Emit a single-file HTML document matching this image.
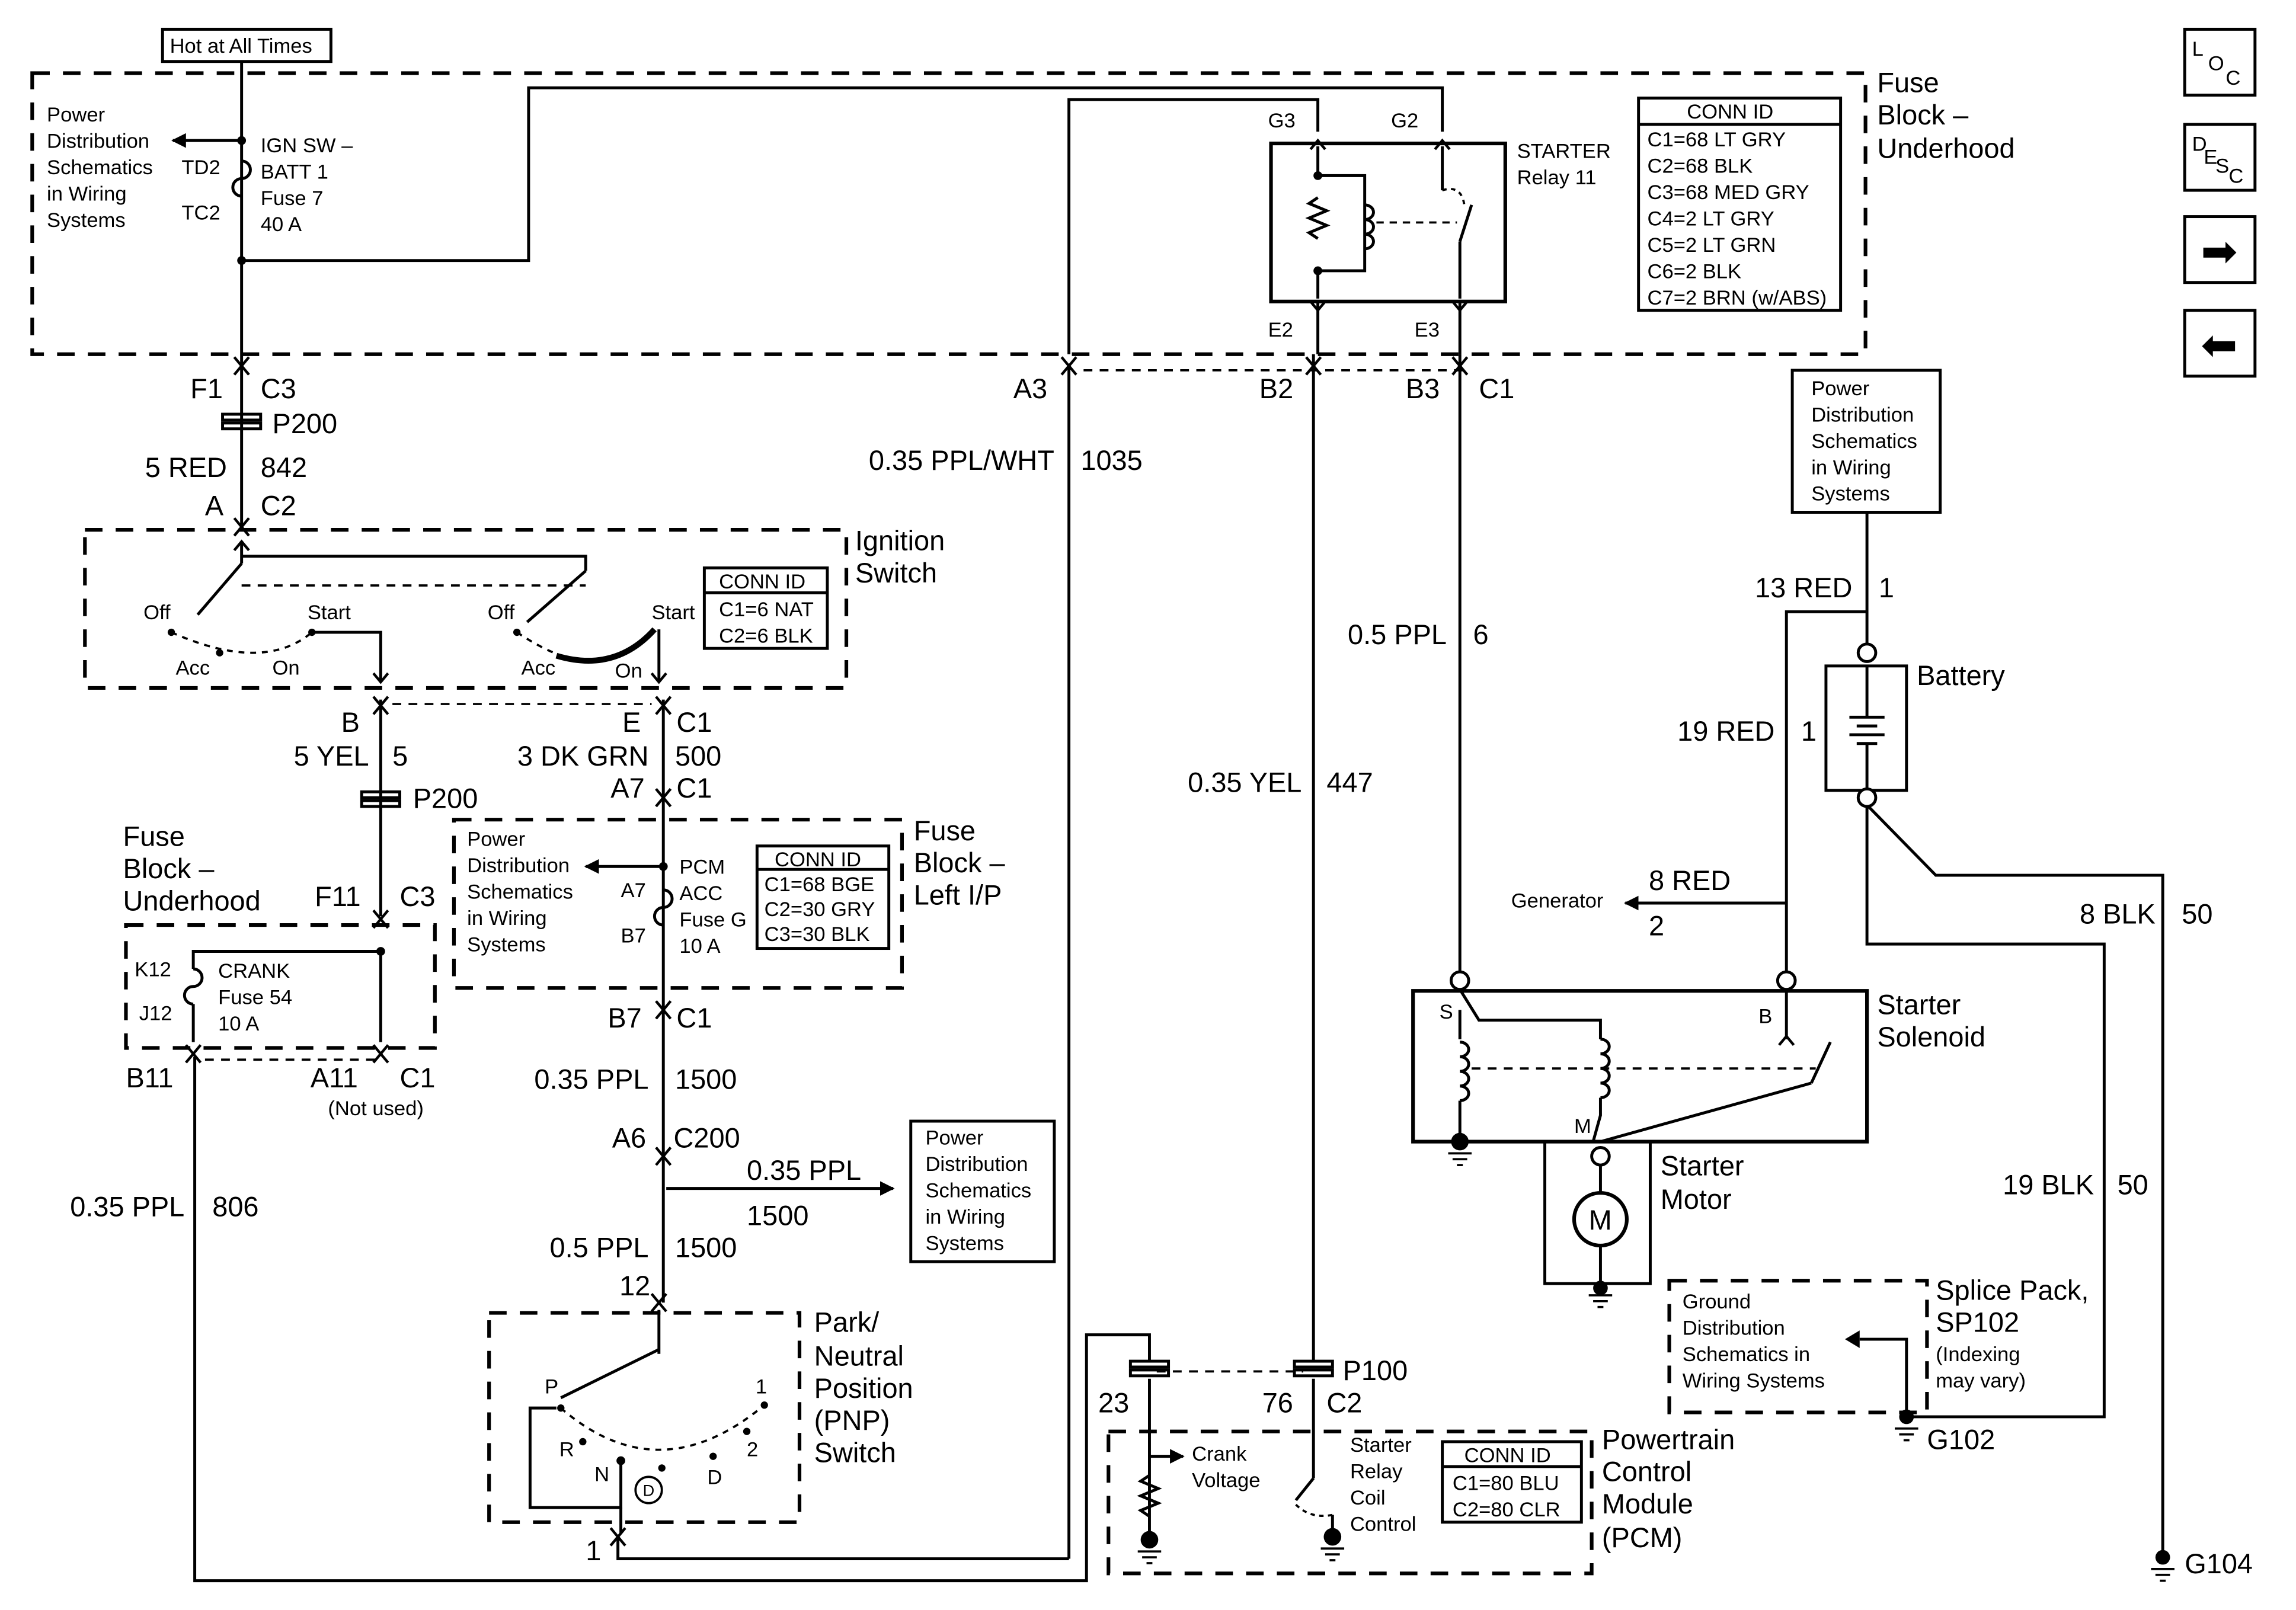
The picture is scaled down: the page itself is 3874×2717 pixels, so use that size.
<!DOCTYPE html>
<html><head><meta charset="utf-8"><style>
html,body{margin:0;padding:0;background:#fff;}
svg{display:block;}
text{font-family:"Liberation Sans",Arial,sans-serif;fill:#000;}
.L{font-size:19px;}
.S{font-size:14px;}
.M{font-size:17px;}
</style></head><body>
<svg width="3874" height="2717" viewBox="0 0 1568 1100" preserveAspectRatio="none" xmlns="http://www.w3.org/2000/svg">
<defs>
<marker id="ar" markerWidth="10" markerHeight="10" refX="9" refY="5" orient="auto" markerUnits="userSpaceOnUse"><path d="M0,0 L10,5 L0,10 z" fill="#000"/></marker>
<g id="cv"><path d="M-5,-6 L0,0 L5,-6 M-5,6 L0,0 L5,6" fill="none" stroke="#000" stroke-width="1.8"/></g>
<g id="dn"><path d="M-5,-6 L0,0 L5,-6" fill="none" stroke="#000" stroke-width="1.8"/></g>
<g id="up"><path d="M-5,6 L0,0 L5,6" fill="none" stroke="#000" stroke-width="1.8"/></g>
<g id="gnd"><path d="M-8,0 H8 M-5,4 H5 M-2,8 H2" fill="none" stroke="#000" stroke-width="1.5"/></g>
</defs>
<g fill="none" stroke="#000" stroke-width="2">
<rect x="111" y="20" width="115" height="22"/>
<g stroke-dasharray="12,9" stroke-width="2.5">
<rect x="22" y="50" width="1252" height="192"/>
<rect x="58" y="362" width="520" height="108"/>
<rect x="86" y="632" width="211" height="84"/>
<rect x="310" y="560" width="306" height="115"/>
<rect x="334" y="897" width="212" height="143"/>
<rect x="1140" y="875" width="176" height="90"/>
<rect x="757" y="978" width="330" height="97"/>
<line x1="740" y1="253" x2="1000" y2="253" stroke-width="1.5" stroke-dasharray="6,5"/>
<line x1="268" y1="481" x2="445" y2="481" stroke-width="1.5" stroke-dasharray="6,5"/>
<line x1="140" y1="724" x2="260" y2="724" stroke-width="1.5" stroke-dasharray="6,5"/>
<line x1="790" y1="937" x2="890" y2="937" stroke-width="1.5" stroke-dasharray="6,5"/>
</g>
<rect x="868" y="98" width="160" height="108" stroke-width="2.5"/>
<rect x="1119" y="67" width="138" height="145"/>
<line x1="1119" y1="85" x2="1257" y2="85"/>
<rect x="481" y="388" width="84" height="55"/><line x1="481" y1="405" x2="565" y2="405"/>
<rect x="517" y="578" width="90" height="70"/><line x1="517" y1="594" x2="607" y2="594"/>
<rect x="985" y="985" width="95" height="55"/><line x1="985" y1="1002" x2="1080" y2="1002"/>
<rect x="1224" y="253" width="101" height="97"/>
<rect x="622" y="766" width="98" height="96"/>
<rect x="1247" y="455" width="55" height="85"/>
<rect x="965" y="677" width="310" height="103" stroke-width="2.5"/>
<rect x="1055" y="780" width="72" height="97"/>
<rect x="1492" y="20" width="48" height="45"/>
<rect x="1492" y="85" width="48" height="45"/>
<rect x="1492" y="148" width="48" height="45"/>
<rect x="1492" y="212" width="48" height="45"/>
<line x1="165" y1="42" x2="165" y2="360"/>
<line x1="165" y1="96" x2="118" y2="96" marker-end="url(#ar)"/>
<polyline points="165,178 361,178 361,60 985,60 985,90"/>
<polyline points="730,242 730,68 900,68 900,90"/>
<line x1="730" y1="250" x2="730" y2="1065"/>
<polyline points="730,1065 422,1065 422,1050"/>
<line x1="897" y1="242" x2="897" y2="930"/>
<line x1="997" y1="242" x2="997" y2="664"/>
<line x1="900" y1="206" x2="900" y2="242"/><line x1="997" y1="206" x2="997" y2="242"/>
<path d="M165,110 a6,6 0 0 1 0,12 a6,6 0 0 0 0,12"/>
<polyline points="900,100 900,120 932,120 932,185 900,185 900,204"/>
<path d="M900,135 l-6,4 l12,5 l-12,5 l12,5 l-12,5 l6,4" />
<path d="M932,140 a6,5 0 1 1 0,10 a6,5 0 1 1 0,10 a6,5 0 1 1 0,10"/>
<line x1="940" y1="152" x2="995" y2="152" stroke-dasharray="5,4" stroke-width="1.5"/>
<line x1="985" y1="100" x2="985" y2="130"/>
<line x1="997" y1="165" x2="997" y2="204"/>
<path d="M985,130 Q998,126 1000,140" stroke-dasharray="3,3" stroke-width="1.5"/>
<line x1="997" y1="165" x2="1005" y2="140"/>
<rect x="152" y="283" width="26" height="4"/><rect x="152" y="289" width="26" height="4"/>
<line x1="165" y1="370" x2="165" y2="385"/>
<polyline points="165,380 400,380 400,390"/>
<line x1="165" y1="385" x2="135" y2="420"/>
<line x1="400" y1="390" x2="360" y2="425"/>
<line x1="165" y1="400" x2="400" y2="400" stroke-dasharray="6,5" stroke-width="1.5"/>
<path d="M117,432 Q180,460 213,432" stroke-dasharray="4,4" stroke-width="1.5"/>
<path d="M353,432 Q380,450 400,452" stroke-dasharray="4,4" stroke-width="1.5"/>
<path d="M380,448 Q420,460 447,430" stroke-width="4"/>
<polyline points="213,432 260,432 260,465"/>
<line x1="450" y1="430" x2="450" y2="465"/>
<line x1="260" y1="478" x2="260" y2="626"/>
<line x1="453" y1="478" x2="453" y2="890"/>
<rect x="247" y="541" width="26" height="4"/><rect x="247" y="547" width="26" height="4"/>
<polyline points="260,650 132,650 132,662"/>
<line x1="260" y1="650" x2="260" y2="712"/>
<path d="M132,662 a6,6 0 0 1 0,12 a6,6 0 0 0 0,12"/>
<line x1="132" y1="686" x2="132" y2="712"/>
<polyline points="133,722 133,1080 742,1080 742,912 785,912 785,930"/>
<line x1="453" y1="592" x2="400" y2="592" marker-end="url(#ar)"/>
<path d="M453,608 a6,6 0 0 1 0,12 a6,6 0 0 0 0,12"/>
<line x1="455" y1="812" x2="610" y2="812" marker-end="url(#ar)"/>
<line x1="450" y1="895" x2="450" y2="925"/>
<line x1="450" y1="922" x2="383" y2="955"/>
<path d="M383,962 Q450,1020 522,960" stroke-dasharray="4,4" stroke-width="1.5"/>
<polyline points="380,962 362,962 362,1030 424,1030 424,998"/>
<line x1="424" y1="1030" x2="424" y2="1048"/>
<circle cx="443" cy="1018" r="9" stroke-width="1.5"/>
<rect x="772" y="930" width="26" height="4"/><rect x="772" y="936" width="26" height="4"/>
<rect x="884" y="930" width="26" height="4"/><rect x="884" y="936" width="26" height="4"/>
<line x1="785" y1="942" x2="785" y2="1050"/>
<line x1="897" y1="942" x2="897" y2="1010"/>
<line x1="785" y1="995" x2="808" y2="995" marker-end="url(#ar)"/>
<path d="M785,1008 l-6,4 l12,5 l-12,5 l12,5 l-12,5 l6,4"/>
<line x1="897" y1="1010" x2="885" y2="1025"/>
<path d="M885,1028 Q895,1038 910,1035" stroke-dasharray="3,3" stroke-width="1.5"/>
<line x1="910" y1="1035" x2="910" y2="1048"/>
<line x1="1275" y1="350" x2="1275" y2="440"/>
<polyline points="1220,664 1220,418 1275,418"/>
<polyline points="1220,617 1110,617" marker-end="url(#ar)"/>
<line x1="1275" y1="455" x2="1275" y2="490"/>
<line x1="1263" y1="490" x2="1287" y2="490"/><line x1="1268" y1="496" x2="1282" y2="496"/>
<line x1="1263" y1="502" x2="1287" y2="502"/><line x1="1268" y1="508" x2="1282" y2="508"/>
<line x1="1275" y1="508" x2="1275" y2="540"/>
<polyline points="1275,550 1275,645 1437,645 1437,968 1302,968"/>
<polyline points="1275,550 1322,598 1477,598 1477,1062"/>
<polyline points="1302,968 1302,915 1270,915"/>
<polyline points="997,676 1010,697 1093,697 1093,710"/>
<polyline points="997,690 997,710"/>
<path d="M997,712 a6,5 0 1 1 0,10 a6,5 0 1 1 0,10 a6,5 0 1 1 0,10 a6,5 0 1 1 0,10"/>
<line x1="997" y1="752" x2="997" y2="778"/>
<path d="M1093,710 a6,5 0 1 1 0,10 a6,5 0 1 1 0,10 a6,5 0 1 1 0,10 a6,5 0 1 1 0,10"/>
<polyline points="1093,750 1093,762 1088,780"/>
<line x1="1005" y1="730" x2="1240" y2="730" stroke-dasharray="6,5" stroke-width="1.5"/>
<line x1="1220" y1="676" x2="1220" y2="710"/>
<line x1="1237" y1="740" x2="1250" y2="712"/>
<polyline points="1093,780 1237,740"/>
<circle cx="1093" cy="790" r="6"/>
<circle cx="1093" cy="833" r="18" stroke-width="2.5"/>
<line x1="1093" y1="796" x2="1093" y2="815"/><line x1="1093" y1="851" x2="1093" y2="877"/>
</g>
<!-- connector chevrons -->
<use href="#cv" x="165" y="250"/><use href="#cv" x="730" y="250"/><use href="#cv" x="897" y="250"/><use href="#cv" x="997" y="250"/>
<use href="#up" x="900" y="96"/><use href="#up" x="985" y="96"/>
<use href="#dn" x="900" y="212"/><use href="#dn" x="997" y="212"/>
<use href="#cv" x="165" y="360"/><use href="#up" x="165" y="370"/>
<use href="#dn" x="260" y="466"/><use href="#dn" x="450" y="466"/>
<use href="#cv" x="260" y="482"/><use href="#cv" x="453" y="482"/>
<use href="#cv" x="453" y="545"/><use href="#cv" x="260" y="628"/>
<use href="#cv" x="132" y="720"/><use href="#cv" x="260" y="720"/>
<use href="#cv" x="453" y="690"/><use href="#cv" x="453" y="790"/>
<use href="#cv" x="450" y="890"/><use href="#cv" x="422" y="1050"/>
<use href="#up" x="1220" y="708"/>
<!-- grounds -->
<use href="#gnd" x="997" y="788"/><use href="#gnd" x="1093" y="885"/>
<use href="#gnd" x="785" y="1060"/><use href="#gnd" x="910" y="1058"/>
<use href="#gnd" x="1302" y="976"/><use href="#gnd" x="1477" y="1072"/>
<g fill="#fff" stroke="#000" stroke-width="2">
<circle cx="997" cy="670" r="6"/><circle cx="1220" cy="670" r="6"/>
<circle cx="1275" cy="446" r="6"/><circle cx="1275" cy="545" r="6"/>
</g>
<g fill="#000">
<circle cx="165" cy="96" r="3"/><circle cx="165" cy="178" r="3"/>
<circle cx="260" cy="650" r="3"/><circle cx="453" cy="592" r="3"/>
<circle cx="424" cy="998" r="3"/><circle cx="900" cy="120" r="3"/><circle cx="900" cy="185" r="3"/>
<circle cx="117" cy="432" r="2.5"/><circle cx="150" cy="446" r="2.5"/><circle cx="213" cy="432" r="2.5"/>
<circle cx="353" cy="432" r="2.5"/><circle cx="383" cy="962" r="2.5"/><circle cx="398" cy="985" r="2.5"/>
<circle cx="452" cy="1003" r="2.5"/><circle cx="487" cy="995" r="2.5"/><circle cx="510" cy="978" r="2.5"/><circle cx="522" cy="960" r="2.5"/>
<circle cx="997" cy="780" r="6"/><circle cx="1093" cy="880" r="5"/>
<circle cx="785" cy="1052" r="6"/><circle cx="910" cy="1050" r="6"/>
<circle cx="1302" cy="968" r="5"/><circle cx="1477" cy="1064" r="5"/>
<path d="M1270,909 L1260,915 L1270,921 z"/>
</g>
<text class="S" x="116" y="36">Hot at All Times</text>
<text class="S" x="32" y="83">Power</text><text class="S" x="32" y="101">Distribution</text>
<text class="S" x="32" y="119">Schematics</text><text class="S" x="32" y="137">in Wiring</text><text class="S" x="32" y="155">Systems</text>
<text class="S" x="124" y="119">TD2</text><text class="S" x="124" y="150">TC2</text>
<text class="S" x="178" y="104">IGN SW –</text><text class="S" x="178" y="122">BATT 1</text>
<text class="S" x="178" y="140">Fuse 7</text><text class="S" x="178" y="158">40 A</text>
<text class="L" x="1282" y="63">Fuse</text><text class="L" x="1282" y="85">Block –</text><text class="L" x="1282" y="108">Underhood</text>
<text class="S" x="866" y="87">G3</text><text class="S" x="950" y="87">G2</text>
<text class="S" x="866" y="230">E2</text><text class="S" x="966" y="230">E3</text>
<text class="S" x="1036" y="108">STARTER</text><text class="S" x="1036" y="126">Relay 11</text>
<text class="S" x="1152" y="81">CONN ID</text>
<text class="S" x="1125" y="100">C1=68 LT GRY</text><text class="S" x="1125" y="118">C2=68 BLK</text>
<text class="S" x="1125" y="136">C3=68 MED GRY</text><text class="S" x="1125" y="154">C4=2 LT GRY</text>
<text class="S" x="1125" y="172">C5=2 LT GRN</text><text class="S" x="1125" y="190">C6=2 BLK</text>
<text class="S" x="1125" y="208">C7=2 BRN (w/ABS)</text>
<text class="S" x="1497" y="38">L</text><text class="S" x="1508" y="48">O</text><text class="S" x="1520" y="58">C</text>
<text class="S" x="1497" y="103">D</text><text class="S" x="1505" y="112">E</text><text class="S" x="1513" y="118">S</text><text class="S" x="1522" y="125">C</text>
<text x="1503" y="182" style="font-size:30px">➡</text><text x="1503" y="246" style="font-size:30px">⬅</text>
<text class="L" x="130" y="272">F1</text><text class="L" x="178" y="272">C3</text>
<text class="L" x="692" y="272">A3</text><text class="L" x="860" y="272">B2</text>
<text class="L" x="960" y="272">B3</text><text class="L" x="1010" y="272">C1</text>
<text class="L" x="186" y="296">P200</text>
<text class="L" x="155" y="326" text-anchor="end">5 RED</text><text class="L" x="178" y="326">842</text>
<text class="L" x="140" y="352">A</text><text class="L" x="178" y="352">C2</text>
<text class="L" x="720" y="321" text-anchor="end">0.35 PPL/WHT</text><text class="L" x="738" y="321">1035</text>
<text class="L" x="584" y="376">Ignition</text><text class="L" x="584" y="398">Switch</text>
<text class="S" x="491" y="402">CONN ID</text><text class="S" x="491" y="421">C1=6 NAT</text><text class="S" x="491" y="439">C2=6 BLK</text>
<text class="S" x="98" y="423">Off</text><text class="S" x="210" y="423">Start</text>
<text class="S" x="120" y="461">Acc</text><text class="S" x="186" y="461">On</text>
<text class="S" x="333" y="423">Off</text><text class="S" x="445" y="423">Start</text>
<text class="S" x="356" y="461">Acc</text><text class="S" x="420" y="463">On</text>
<text class="L" x="233" y="500">B</text><text class="L" x="425" y="500">E</text><text class="L" x="462" y="500">C1</text>
<text class="L" x="252" y="523" text-anchor="end">5 YEL</text><text class="L" x="268" y="523">5</text>
<text class="L" x="443" y="523" text-anchor="end">3 DK GRN</text><text class="L" x="461" y="523">500</text>
<text class="L" x="417" y="545">A7</text><text class="L" x="462" y="545">C1</text>
<text class="L" x="282" y="552">P200</text>
<text class="L" x="84" y="578">Fuse</text><text class="L" x="84" y="600">Block –</text><text class="L" x="84" y="622">Underhood</text>
<text class="L" x="215" y="619">F11</text><text class="L" x="273" y="619">C3</text>
<text class="S" x="92" y="667">K12</text><text class="S" x="95" y="697">J12</text>
<text class="S" x="149" y="668">CRANK</text><text class="S" x="149" y="686">Fuse 54</text><text class="S" x="149" y="704">10 A</text>
<text class="L" x="86" y="743">B11</text><text class="L" x="212" y="743">A11</text><text class="L" x="273" y="743">C1</text>
<text class="S" x="224" y="762">(Not used)</text>
<text class="S" x="319" y="578">Power</text><text class="S" x="319" y="596">Distribution</text><text class="S" x="319" y="614">Schematics</text>
<text class="S" x="319" y="632">in Wiring</text><text class="S" x="319" y="650">Systems</text>
<text class="S" x="464" y="597">PCM</text><text class="S" x="464" y="615">ACC</text><text class="S" x="464" y="633">Fuse G</text><text class="S" x="464" y="651">10 A</text>
<text class="S" x="424" y="613">A7</text><text class="S" x="424" y="644">B7</text>
<text class="S" x="529" y="592">CONN ID</text><text class="S" x="522" y="609">C1=68 BGE</text>
<text class="S" x="522" y="626">C2=30 GRY</text><text class="S" x="522" y="643">C3=30 BLK</text>
<text class="L" x="624" y="574">Fuse</text><text class="L" x="624" y="596">Block –</text><text class="L" x="624" y="618">Left I/P</text>
<text class="L" x="415" y="702">B7</text><text class="L" x="462" y="702">C1</text>
<text class="L" x="443" y="744" text-anchor="end">0.35 PPL</text><text class="L" x="461" y="744">1500</text>
<text class="L" x="418" y="784">A6</text><text class="L" x="460" y="784">C200</text>
<text class="L" x="510" y="806">0.35 PPL</text><text class="L" x="510" y="837">1500</text>
<text class="L" x="443" y="859" text-anchor="end">0.5 PPL</text><text class="L" x="461" y="859">1500</text>
<text class="L" x="423" y="885">12</text>
<text class="S" x="632" y="782">Power</text><text class="S" x="632" y="800">Distribution</text><text class="S" x="632" y="818">Schematics</text>
<text class="S" x="632" y="836">in Wiring</text><text class="S" x="632" y="854">Systems</text>
<text class="L" x="126" y="831" text-anchor="end">0.35 PPL</text><text class="L" x="145" y="831">806</text>
<text class="L" x="556" y="910">Park/</text><text class="L" x="556" y="933">Neutral</text><text class="L" x="556" y="955">Position</text>
<text class="L" x="556" y="977">(PNP)</text><text class="L" x="556" y="999">Switch</text>
<text class="S" x="372" y="952">P</text><text class="S" x="382" y="995">R</text><text class="S" x="406" y="1012">N</text>
<text class="S" x="483" y="1014">D</text><text class="S" x="510" y="995">2</text><text class="S" x="516" y="952">1</text>
<text style="font-size:11px" x="439" y="1022">D</text>
<text class="L" x="400" y="1066">1</text>
<text class="L" x="988" y="440" text-anchor="end">0.5 PPL</text><text class="L" x="1006" y="440">6</text>
<text class="L" x="889" y="541" text-anchor="end">0.35 YEL</text><text class="L" x="906" y="541">447</text>
<text class="S" x="1237" y="270">Power</text><text class="S" x="1237" y="288">Distribution</text><text class="S" x="1237" y="306">Schematics</text>
<text class="S" x="1237" y="324">in Wiring</text><text class="S" x="1237" y="342">Systems</text>
<text class="L" x="1265" y="408" text-anchor="end">13 RED</text><text class="L" x="1283" y="408">1</text>
<text class="L" x="1309" y="468">Battery</text>
<text class="L" x="1212" y="506" text-anchor="end">19 RED</text><text class="L" x="1230" y="506">1</text>
<text class="L" x="1126" y="608">8 RED</text><text class="L" x="1126" y="639">2</text>
<text class="S" x="1032" y="620">Generator</text>
<text class="L" x="1472" y="631" text-anchor="end">8 BLK</text><text class="L" x="1490" y="631">50</text>
<text class="S" x="983" y="696">S</text><text class="S" x="1201" y="699">B</text><text class="S" x="1075" y="774">M</text>
<text class="L" x="1282" y="693">Starter</text><text class="L" x="1282" y="715">Solenoid</text>
<text class="L" x="1134" y="803">Starter</text><text class="L" x="1134" y="826">Motor</text>
<text class="L" x="1085" y="840">M</text>
<text class="L" x="1430" y="816" text-anchor="end">19 BLK</text><text class="L" x="1446" y="816">50</text>
<text class="S" x="1149" y="894">Ground</text><text class="S" x="1149" y="912">Distribution</text>
<text class="S" x="1149" y="930">Schematics in</text><text class="S" x="1149" y="948">Wiring Systems</text>
<text class="L" x="1322" y="888">Splice Pack,</text><text class="L" x="1322" y="910">SP102</text>
<text class="S" x="1322" y="930">(Indexing</text><text class="S" x="1322" y="948">may vary)</text>
<text class="L" x="1316" y="990">G102</text>
<text class="L" x="917" y="943">P100</text>
<text class="L" x="750" y="965">23</text><text class="L" x="862" y="965">76</text><text class="L" x="906" y="965">C2</text>
<text class="S" x="814" y="998">Crank</text><text class="S" x="814" y="1016">Voltage</text>
<text class="S" x="922" y="992">Starter</text><text class="S" x="922" y="1010">Relay</text>
<text class="S" x="922" y="1028">Coil</text><text class="S" x="922" y="1046">Control</text>
<text class="S" x="1000" y="999">CONN ID</text><text class="S" x="992" y="1018">C1=80 BLU</text><text class="S" x="992" y="1036">C2=80 CLR</text>
<text class="L" x="1094" y="990">Powertrain</text><text class="L" x="1094" y="1012">Control</text>
<text class="L" x="1094" y="1034">Module</text><text class="L" x="1094" y="1057">(PCM)</text>
<text class="L" x="1492" y="1075">G104</text>
</svg>
</body></html>
